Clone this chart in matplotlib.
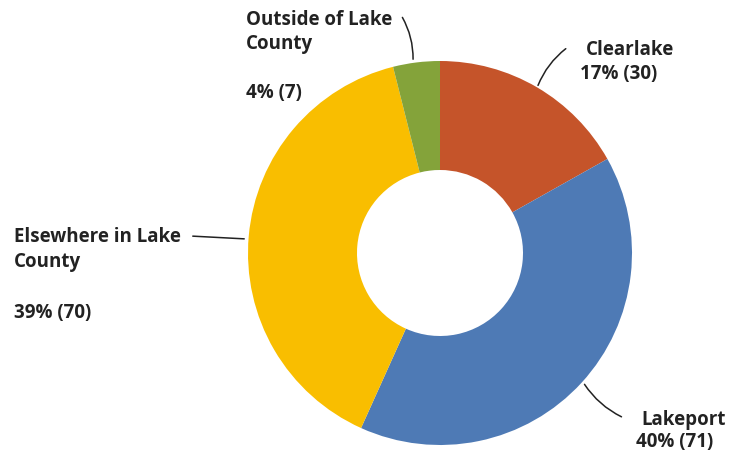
import matplotlib.pyplot as plt

# data
labels = ['Clearlake', 'Lakeport', 'Elsewhere in Lake\nCounty', 'Outside of Lake\nCounty']
counts = [30, 71, 70, 7]
colors = ['#C5542A', '#4E7AB5', '#F9BE00', '#84A33A']

plt.rcParams['font.family'] = ['Open Sans', 'DejaVu Sans']

fig = plt.figure(figsize=(7.4, 4.54), dpi=100)
ax = fig.add_axes([0, 0, 1, 1])

cx, cy, r = 440, 454 - 253, 192
ax.pie(counts, colors=colors, startangle=90, counterclock=False,
       center=(cx, cy), radius=r, frame=True,
       wedgeprops=dict(width=r - 83, edgecolor='none'))
ax.set_xlim(0, 740)
ax.set_ylim(0, 454)
ax.set_aspect('equal')
ax.axis('off')

total = sum(counts)
pct = [round(c / total * 100) for c in counts]
txt = dict(fontsize=13.5, fontweight='bold', color='#222222', va='center', ha='left')

def y(p):
    return 454 - p

def label(x, ys, lines):
    for yy, s in zip(ys, lines):
        ax.text(x, y(yy), s, **txt)

# Outside of Lake County
label(246, [20, 44], labels[3].split('\n'))
label(246, [93], ['%d%% (%d)' % (pct[3], counts[3])])
# Clearlake
label(586, [50], [labels[0]])
label(580, [74], ['%d%% (%d)' % (pct[0], counts[0])])
# Elsewhere
label(14, [237, 262], labels[2].split('\n'))
label(14, [313], ['%d%% (%d)' % (pct[2], counts[2])])
# Lakeport
label(641, [420], [labels[1]])
label(636, [442], ['%d%% (%d)' % (pct[1], counts[1])])

line = dict(arrowstyle='-', color='#222222', lw=1.1)
ax.annotate('', xy=(413, y(62)), xytext=(401, y(15)),
            arrowprops=dict(connectionstyle='arc3,rad=-0.15', **line))
ax.annotate('', xy=(537, y(88)), xytext=(568, y(47)),
            arrowprops=dict(connectionstyle='arc3,rad=0.15', **line))
ax.annotate('', xy=(247, y(239)), xytext=(190, y(236)),
            arrowprops=dict(connectionstyle='arc3,rad=0', **line))
ax.annotate('', xy=(583, y(382)), xytext=(624, y(418)),
            arrowprops=dict(connectionstyle='arc3,rad=-0.15', **line))

plt.savefig('out.png', dpi=100)
